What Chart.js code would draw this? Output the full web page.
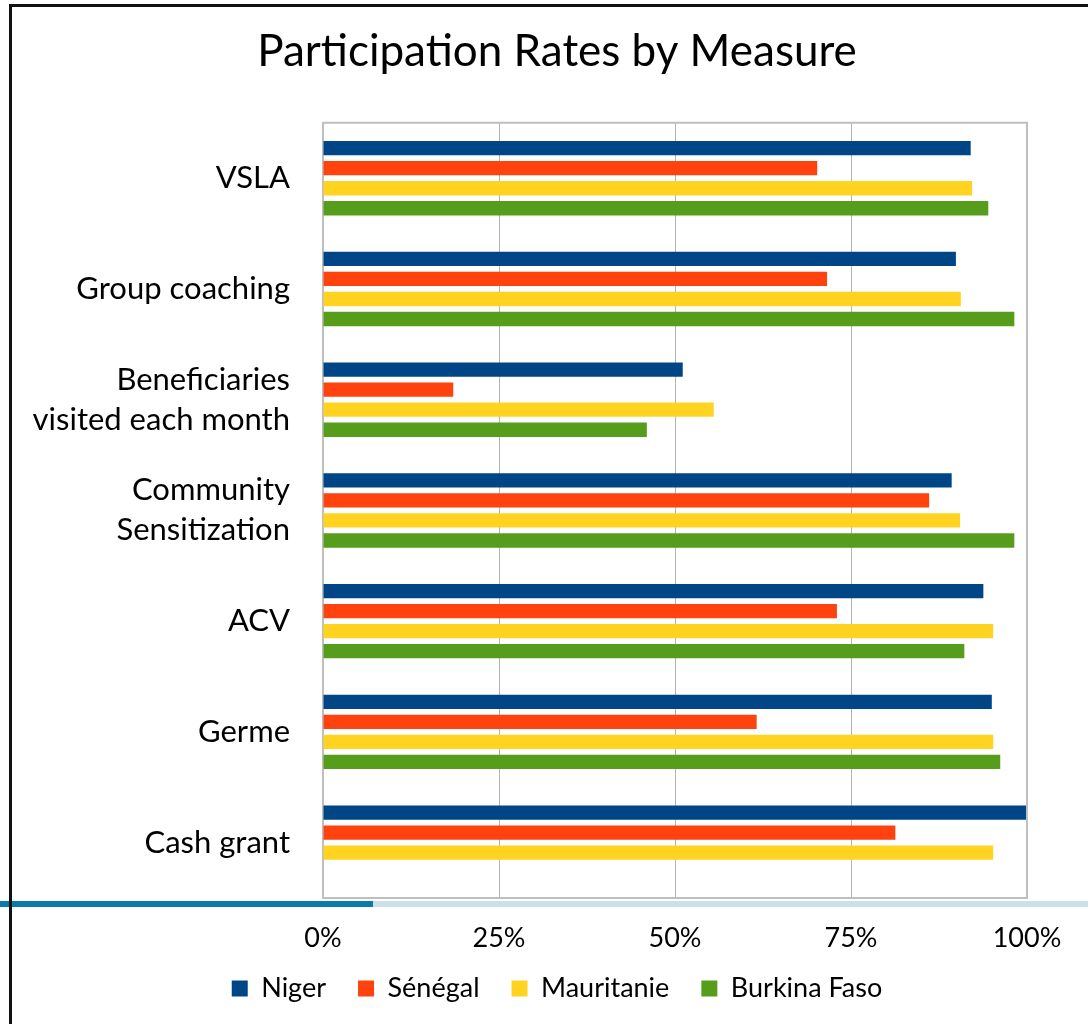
<!DOCTYPE html>
<html>
<head>
<meta charset="utf-8">
<script src="https://cdn.jsdelivr.net/npm/chart.js@4"></script>
<style>
  html, body { margin: 0; padding: 0; background: #fff; }
  #wrap { width: 1088px; height: 1024px; }
</style>
</head>
<body>
<div id="wrap"><canvas id="chart1" width="1088" height="1024"></canvas></div>
<script>
var measures = ["VSLA", "Group coaching", ["Beneficiaries", "visited each month"], ["Community", "Sensitization"], "ACV", "Germe", "Cash grant"];
var niger = [92, 89.9, 51.1, 89.3, 93.8, 95, 100];
var senegal = [70.2, 71.6, 18.5, 86.1, 73, 61.6, 81.3];
var mauritanie = [92.2, 90.6, 55.5, 90.5, 95.2, 95.2, 95.2];
var burkina = [94.5, 98.2, 46, 98.2, 91.1, 96.2, null];
var xTicks = [0, 25, 50, 75, 100];

var fontName = "Lato, 'Open Sans', sans-serif";

// slide decorations: white bg, blue rule, black frame
var decor = {
	id: "decor",
	beforeDraw: function (chart) {
		var c = chart.ctx;
		c.save();
		c.fillStyle = "#ffffff";
		c.fillRect(0, 0, chart.width, chart.height);
		c.restore();
	},
	afterDraw: function (chart) {
		var c = chart.ctx;
		c.save();
		c.fillStyle = "#0b7ba9";
		c.fillRect(0, 901, 373, 6);
		c.fillStyle = "#cce0ea";
		c.fillRect(373, 901, 715, 6);
		c.fillStyle = "#111111";
		c.fillRect(9, 4, 1079, 3);
		c.fillRect(9, 4, 3, 1020);
		c.restore();
	}
};

// top and right edges of the plot box
var edge = {
	id: "edge",
	afterLayout: function (ch) {
		// x labels sit lower than the squeezed axis box, so don't clip them
		ch.scales.x.bottom = ch.height;
	},
	afterDatasetsDraw: function (ch) {
		var a = ch.chartArea, c = ch.ctx;
		c.save();
		c.strokeStyle = "#bfbfbf";
		c.lineWidth = 2;
		c.beginPath();
		c.moveTo(a.left, a.top);
		c.lineTo(a.right, a.top);
		c.lineTo(a.right, a.bottom);
		c.stroke();
		c.restore();
	}
};

var ctx = document.getElementById("chart1").getContext("2d");
var chartdata = {
	type: "bar",
	data: {
		labels: measures,
		datasets: [
			{ label: "Niger", data: niger, backgroundColor: "#004586" },
			{ label: "Sénégal", data: senegal, backgroundColor: "#ff420e" },
			{ label: "Mauritanie", data: mauritanie, backgroundColor: "#ffd320" },
			{ label: "Burkina Faso", data: burkina, backgroundColor: "#579d1c" }
		]
	},
	options: {
		indexAxis: "y",
		responsive: false,
		animation: false,
		categoryPercentage: 0.723,
		barPercentage: 0.72,
		layout: { padding: { left: 26, right: 0, top: 0, bottom: 12 } },
		plugins: {
			title: {
				display: true,
				text: "Participation Rates by Measure",
				color: "#000",
				font: { family: fontName, size: 44, weight: "normal" },
				padding: { top: 25, bottom: 45 }
			},
			legend: {
				position: "bottom",
				labels: {
					color: "#000",
					boxWidth: 16,
					boxHeight: 16,
					padding: 32,
					font: { family: fontName, size: 27 }
				}
			},
			tooltip: { enabled: false }
		},
		scales: {
			x: {
				min: 0,
				max: 100,
				afterBuildTicks: function (scale) {
					scale.ticks = xTicks.map(function (v) { return { value: v }; });
				},
				afterFit: function (scale) {
					scale.paddingRight = 61;
					scale.height = 45;
				},
				ticks: {
					color: "#000",
					padding: 24,
					font: { family: fontName, size: 27 },
					callback: function (v) { return v + "%"; }
				},
				grid: { color: "#b3b3b3", lineWidth: 1, drawTicks: false },
				border: { color: "#bfbfbf", width: 2 }
			},
			y: {
				afterFit: function (scale) {
					scale.width = 297;
				},
				ticks: {
					color: "#000",
					padding: 33,
					font: { family: fontName, size: 31, lineHeight: 1.29 }
				},
				grid: { display: false, drawTicks: false },
				border: { color: "#bfbfbf", width: 2 }
			}
		}
	},
	plugins: [decor, edge]
};

var chart = new Chart(ctx, chartdata);
</script>
</body>
</html>
